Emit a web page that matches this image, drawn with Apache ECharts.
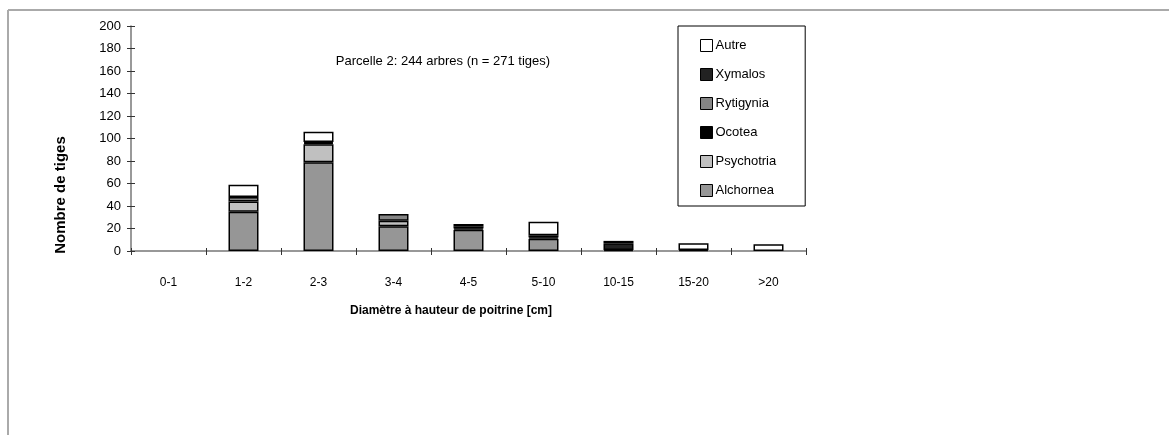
<!DOCTYPE html>
<html>
<head>
<meta charset="utf-8">
<title>Parcelle 2</title>
<script src="https://cdn.jsdelivr.net/npm/echarts@6/dist/echarts.min.js"></script>
<style>
  html, body { margin: 0; padding: 0; background: #fff; }
  #chart { width: 1169px; height: 435px; }
</style>
</head>
<body>
<div id="chart"></div>
<script>
// Diameter classes (DBH, cm)
const categories = ['0-1', '1-2', '2-3', '3-4', '4-5', '5-10', '10-15', '15-20', '>20'];

// Stem counts per species, per diameter class (stacked bottom to top)
const alchornea  = [0, 35, 79, 22, 19, 11, 1, 0, 0];
const psychotria = [0, 9, 16, 5, 1, 1, 0, 1, 0];
const ocotea     = [0, 0, 1, 0, 0, 2, 0, 0, 0];
const rytigynia  = [0, 4, 0, 6, 2, 0, 0, 0, 0];
const xymalos    = [0, 0, 1, 0, 0, 0, 6, 0, 0];
const autre      = [0, 11, 9, 0, 2, 12, 2, 6, 6];

const yTicks = [0, 20, 40, 60, 80, 100, 120, 140, 160, 180, 200];

const FONT = "'Liberation Sans', Arial, sans-serif";

const speciesDefs = [
  { name: 'Alchornea',  data: alchornea,  color: '#969696' },
  { name: 'Psychotria', data: psychotria, color: '#c0c0c0' },
  { name: 'Ocotea',     data: ocotea,     color: '#000000' },
  { name: 'Rytigynia',  data: rytigynia,  color: '#858585' },
  { name: 'Xymalos',    data: xymalos,    color: '#222222' },
  { name: 'Autre',      data: autre,      color: '#ffffff' }
];

const series = speciesDefs.map(s => ({
  name: s.name,
  type: 'bar',
  stack: 'total',
  xAxisIndex: 0,
  yAxisIndex: 0,
  barWidth: '40%',
  data: s.data.map(v => (v === 0 ? '-' : v)),
  itemStyle: { color: s.color, borderColor: '#000', borderWidth: 1.5 },
  emphasis: { disabled: true }
}));

const chart = echarts.init(document.getElementById('chart'), null, { renderer: 'canvas' });

chart.setOption({
  backgroundColor: '#ffffff',
  animation: false,
  textStyle: { fontFamily: FONT },
  grid: { left: 131, top: 26, width: 675, height: 225, containLabel: false },
  legend: {
    orient: 'vertical',
    left: 678,
    top: 26,
    data: ['Autre', 'Xymalos', 'Rytigynia', 'Ocotea', 'Psychotria', 'Alchornea'],
    icon: 'rect',
    itemWidth: 12,
    itemHeight: 12,
    itemGap: 16,
    padding: [13, 29, 9, 22],
    borderColor: '#000',
    borderWidth: 1,
    backgroundColor: '#fff',
    selectedMode: false,
    itemStyle: { borderColor: '#000', borderWidth: 1 },
    textStyle: { fontFamily: FONT, fontSize: 13, color: '#000', padding: [0, 0, 0, -2] }
  },
  xAxis: [
    {
      type: 'category',
      data: categories,
      boundaryGap: true,
      axisLine: { lineStyle: { color: '#777', width: 1.5 } },
      axisTick: { show: true, length: 4, lineStyle: { color: '#333' } },
      axisLabel: { color: '#000', fontSize: 12, margin: 26, fontFamily: FONT },
      splitLine: { show: false }
    },
    {
      type: 'category',
      data: categories,
      position: 'bottom',
      boundaryGap: true,
      axisLine: { show: false },
      axisTick: { show: true, inside: true, length: 3, lineStyle: { color: '#333' } },
      axisLabel: { show: false },
      splitLine: { show: false }
    }
  ],
  yAxis: [
    {
      type: 'value',
      min: 0,
      max: 200,
      interval: 20,
      axisLine: { show: true, lineStyle: { color: '#777', width: 1.5 } },
      axisTick: { show: true, length: 4, lineStyle: { color: '#333' } },
      axisLabel: {
        color: '#000', fontSize: 13, margin: 10, fontFamily: FONT,
        formatter: v => (yTicks.includes(v) ? String(v) : '')
      },
      splitLine: { show: false }
    },
    {
      type: 'value',
      min: 0,
      max: 200,
      interval: 20,
      position: 'left',
      axisLine: { show: false },
      axisTick: { show: true, inside: true, length: 4, lineStyle: { color: '#333' } },
      axisLabel: { show: false },
      splitLine: { show: false }
    }
  ],
  series: series,
  graphic: [
    // outer frame (top and left edges)
    { type: 'line', shape: { x1: 8, y1: 10, x2: 1169, y2: 10 }, style: { stroke: '#aaaaaa', lineWidth: 2 } },
    { type: 'line', shape: { x1: 8, y1: 10, x2: 8, y2: 435 }, style: { stroke: '#aaaaaa', lineWidth: 2 } },
    {
      type: 'text', x: 443, y: 61,
      style: { text: 'Parcelle 2: 244 arbres (n = 271 tiges)', fill: '#000', font: '13px ' + FONT, textAlign: 'center', textVerticalAlign: 'middle' }
    },
    {
      type: 'text', x: 451, y: 311,
      style: { text: 'Diamètre à hauteur de poitrine [cm]', fill: '#000', font: 'bold 12px ' + FONT, textAlign: 'center', textVerticalAlign: 'middle' }
    },
    {
      type: 'text', x: 61, y: 195, rotation: Math.PI / 2,
      style: { text: 'Nombre de tiges', fill: '#000', font: 'bold 15px ' + FONT, textAlign: 'center', textVerticalAlign: 'middle' }
    }
  ]
});
</script>
</body>
</html>
